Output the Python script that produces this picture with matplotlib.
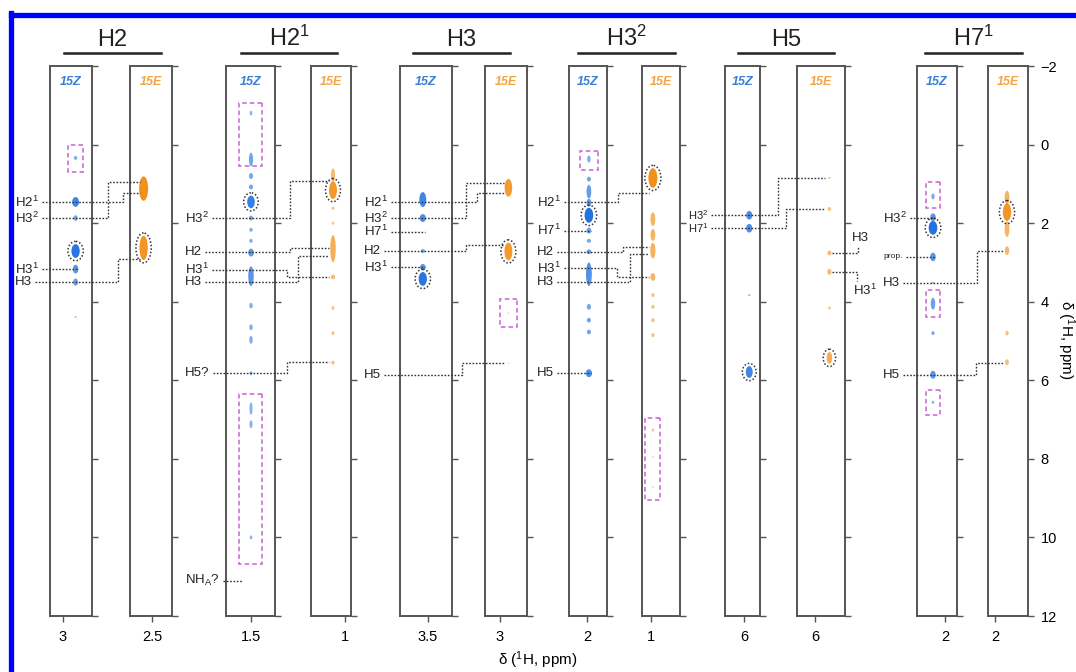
import numpy as np
import matplotlib.pyplot as plt
from matplotlib.patches import Ellipse, Rectangle
from matplotlib.lines import Line2D

plt.rcParams['font.family'] = ['Liberation Sans', 'DejaVu Sans']
plt.rcParams['mathtext.fontset'] = 'custom'
plt.rcParams['mathtext.rm'] = 'Liberation Sans'
plt.rcParams['mathtext.it'] = 'Liberation Sans:italic'
plt.rcParams['mathtext.bf'] = 'Liberation Sans:bold'

#%% data (ppm)
groups = ['H2', 'H2$^1$', 'H3', 'H3$^2$', 'H5', 'H7$^1$']
strip_names = ['15Z', '15E'] * 6
strip_ticks = [3, 2.5, 1.5, 1, 3.5, 3, 2, 1, 6, 6, 2, 2]
# F2 position of the cross-peak column in each strip
strip_f2 = [2.94, 2.54, 1.50, 1.06, 3.52, 2.96, 1.99, 0.99, 5.97, 5.94, 2.06, 1.94]

# peaks per strip: (F1 ppm, extent ppm, relative intensity)
peaks = [
    [(0.34, 0.10, 0.2), (1.46, 0.25, 0.7), (1.87, 0.14, 0.3), (2.71, 0.35, 0.9),
     (3.17, 0.22, 0.5), (3.50, 0.18, 0.4), (4.39, 0.04, 0.05)],
    [(1.12, 0.62, 1.0), (2.63, 0.62, 0.9)],
    [(-0.80, 0.12, 0.1), (0.38, 0.35, 0.3), (0.80, 0.15, 0.3), (1.08, 0.12, 0.3),
     (1.46, 0.32, 0.8), (1.87, 0.12, 0.3), (2.17, 0.10, 0.2), (2.45, 0.10, 0.2),
     (2.75, 0.20, 0.5), (3.35, 0.50, 0.5), (4.10, 0.14, 0.2), (4.65, 0.15, 0.2),
     (4.97, 0.20, 0.2), (5.82, 0.10, 0.15), (6.72, 0.32, 0.15), (7.12, 0.20, 0.15),
     (10.0, 0.10, 0.1)],
    [(0.78, 0.35, 0.3), (1.16, 0.45, 0.85), (1.62, 0.08, 0.15), (2.00, 0.08, 0.1),
     (2.65, 0.69, 0.5), (3.37, 0.12, 0.3), (4.16, 0.10, 0.15), (4.80, 0.10, 0.15),
     (5.55, 0.10, 0.2)],
    [(1.40, 0.38, 0.7), (1.87, 0.20, 0.6), (2.71, 0.10, 0.3), (3.12, 0.16, 0.5),
     (3.42, 0.35, 0.9)],
    [(1.10, 0.45, 0.8), (2.72, 0.45, 0.85), (4.29, 0.03, 0.05), (5.56, 0.02, 0.05)],
    [(0.37, 0.18, 0.2), (0.88, 0.12, 0.3), (1.20, 0.35, 0.4), (1.48, 0.20, 0.4),
     (1.80, 0.38, 0.95), (2.19, 0.15, 0.4), (2.45, 0.10, 0.3), (2.73, 0.12, 0.4),
     (3.30, 0.60, 0.55), (4.13, 0.15, 0.3), (4.47, 0.12, 0.3), (4.77, 0.12, 0.3),
     (5.82, 0.20, 0.6)],
    [(0.85, 0.50, 1.0), (1.90, 0.35, 0.4), (2.30, 0.30, 0.4), (2.70, 0.40, 0.45),
     (3.37, 0.20, 0.4), (3.83, 0.10, 0.2), (4.13, 0.10, 0.2), (4.47, 0.10, 0.2),
     (4.85, 0.10, 0.2), (7.27, 0.08, 0.08), (7.95, 0.03, 0.05), (8.72, 0.03, 0.05)],
    [(1.80, 0.22, 0.6), (2.13, 0.22, 0.6), (3.83, 0.04, 0.1), (5.79, 0.30, 0.7)],
    [(0.85, 0.05, 0.1), (1.64, 0.10, 0.2), (2.76, 0.12, 0.3), (3.24, 0.15, 0.3),
     (4.16, 0.08, 0.1), (5.43, 0.30, 0.5)],
    [(1.32, 0.15, 0.2), (1.85, 0.20, 0.5), (2.12, 0.35, 0.95), (2.86, 0.22, 0.5),
     (3.52, 0.05, 0.1), (4.05, 0.30, 0.35), (4.80, 0.10, 0.2), (5.86, 0.20, 0.5),
     (6.56, 0.08, 0.1)],
    [(1.35, 0.35, 0.4), (1.72, 0.45, 0.9), (2.15, 0.40, 0.4), (2.70, 0.22, 0.35),
     (4.80, 0.12, 0.2), (5.54, 0.15, 0.25)],
]

# dotted circles (F1 ppm of the circled peak)
circled = [[2.71], [2.63], [1.46], [1.16], [3.42], [2.72], [1.80], [0.85], [5.79], [5.43], [2.12], [1.72]]

# dashed boxes: strip -> list of (top ppm, bottom ppm)
boxed = {0: [(0.01, 0.70)], 2: [(-1.06, 0.55), (6.35, 10.68)], 5: [(3.93, 4.64)],
         6: [(0.16, 0.65)], 7: [(6.96, 9.05)],
         10: [(0.95, 1.61), (3.70, 4.39), (6.25, 6.88)]}

# assignments: (label, F1 ppm in 15Z, F1 ppm reached in 15E or None)
links = [
    [('H2$^1$', 1.46, 1.23), ('H3$^2$', 1.87, 0.95), ('H3$^1$', 3.17, None), ('H3', 3.50, 2.91)],
    [('H3$^2$', 1.87, 0.93), ('H2', 2.73, 2.63), ('H3$^1$', 3.19, 3.37), ('H3', 3.50, 2.84),
     ('H5?', 5.82, 5.53), ('NH$_\\mathrm{A}$?', 11.1, None)],
    [('H2$^1$', 1.46, 1.23), ('H3$^2$', 1.87, 0.98), ('H7$^1$', 2.22, None), ('H2', 2.71, 2.56),
     ('H3$^1$', 3.12, None), ('H5', 5.86, 5.56)],
    [('H2$^1$', 1.46, 1.23), ('H7$^1$', 2.19, None), ('H2', 2.73, 2.61), ('H3$^1$', 3.14, 3.37),
     ('H3', 3.50, 2.79), ('H5', 5.82, None)],
    [('H3$^2$', 1.80, 0.85), ('H7$^1$', 2.13, 1.64)],
    [('H3$^2$', 1.87, None), ('prop.', 2.86, None), ('H3', 3.52, 2.71), ('H5', 5.86, 5.56)],
]
# labels on the right of the H5 15E strip: (label, label ppm, peak ppm, leader end ppm)
right_links = [('H3', 2.38, 2.76, 2.57), ('H3$^1$', 3.70, 3.24, 3.47)]

#%% layout (pixels)
W, H = 1076, 672
TOP, BOT = 66, 616
strip_px = [(50, 92), (130, 172), (226, 275), (311, 351), (400, 452), (485, 527),
            (569, 607), (642, 680), (725, 760), (797, 845), (917, 957), (988, 1028)]
tick_px = [63, 152, 251, 345, 428, 500, 587, 651, 744, 815, 945, 995]
header_px = [(64, 161), (241, 337), (413, 510), (578, 675), (738, 834), (925, 1022)]
label_x = [15, 185, 364, 537, 688, 883]
label_fs = [9.5, 9.5, 9.5, 9.5, 8, 9.5]
turns = [[123, 108, None, 118],
         [290, 290, 287, 298, 287, 243],
         [477, 466, None, 466, None, 462],
         [618, None, 623, 617, 630, None],
         [778, 786],
         [None, None, 977, 976]]
right_label_x = [852, 853]
right_turn_x = [858, 857]
box_w = {0: 15, 2: 23, 5: 17, 6: 18, 7: 15, 10: 14}
PPM_W = 0.2

BLUE = '#1c6ee0'
ORANGE = '#f39019'
BLUE_T = '#3b7fd4'
ORANGE_T = '#f5a443'
FRAME = '#555555'
DOT = '#333333'
MAG = '#c862d6'

fig = plt.figure(figsize=(W / 100, H / 100), dpi=100)
fig.patch.set_facecolor('white')
ybot = 1 - BOT / H
yh = (BOT - TOP) / H

axes = []
for i, (L, R) in enumerate(strip_px):
    ax = fig.add_axes([L / W, ybot, (R - L) / W, yh])
    left = strip_ticks[i] + PPM_W * (tick_px[i] - L) / (R - L)
    ax.set_xlim(left, left - PPM_W)
    ax.set_ylim(12, -2)
    ax.set_xticks([strip_ticks[i]])
    ax.set_xticklabels([('%g' % strip_ticks[i])])
    ax.set_yticks(np.arange(-2, 13, 2))
    ax.tick_params(axis='y', left=False, right=True, labelleft=False,
                   labelright=(i == 11), direction='out', length=4, width=1,
                   color=FRAME, labelsize=10.5, pad=5)
    ax.tick_params(axis='x', direction='out', length=4, width=1, color=FRAME,
                   labelsize=10.5, pad=6)
    for s in ax.spines.values():
        s.set_color(FRAME)
        s.set_linewidth(1.4)
    col = BLUE if i % 2 == 0 else ORANGE
    ppx = PPM_W / (R - L)
    for y, ext, inten in peaks[i]:
        ax.add_patch(Ellipse((strip_f2[i], y), (2 + 7 * inten) * ppx, ext,
                             facecolor=col, edgecolor='none', alpha=0.45 + 0.55 * inten))
    for yc in circled[i]:
        p = min(peaks[i], key=lambda q: abs(q[0] - yc))
        ax.add_patch(Ellipse((strip_f2[i], yc), (9 + 7 * p[2]) * ppx, p[1] + 0.14,
                             facecolor='none', edgecolor=DOT, lw=1.1,
                             linestyle=(0, (1, 1.3))))
    for top, bottom in boxed.get(i, []):
        bw = box_w[i] * ppx
        ax.add_patch(Rectangle((strip_f2[i] - bw / 2, top), bw, bottom - top,
                               facecolor='none', edgecolor=MAG, lw=1.1,
                               linestyle=(0, (3, 2))))
    ax.text(0.5, 0.971, strip_names[i], transform=ax.transAxes, ha='center', va='center',
            fontsize=9, fontweight='bold', fontstyle='italic',
            color=BLUE_T if i % 2 == 0 else ORANGE_T)
    axes.append(ax)

# overlay for assignment leaders (x in pixels, y in ppm)
ov = fig.add_axes([0, ybot, 1, yh])
ov.set_xlim(0, W)
ov.set_ylim(12, -2)
ov.axis('off')
ov.set_zorder(10)
ov.patch.set_visible(False)

renderer = fig.canvas.get_renderer()
lstyle = dict(color=DOT, lw=1.0, linestyle=(0, (1.2, 1.2)), clip_on=False)


def col_px(i):
    return axes[i].transData.transform((strip_f2[i], 0))[0]


for g in range(6):
    zi, ei = 2 * g, 2 * g + 1
    zx, ex = col_px(zi), col_px(ei)
    for k, (lab, y0, y1) in enumerate(links[g]):
        fs = 6 if lab == 'prop.' else label_fs[g]
        t = ov.text(label_x[g], y0, lab, fontsize=fs, ha='left', va='center', color='#222222')
        x0 = t.get_window_extent(renderer).x1 + 3
        tx = turns[g][k]
        if y1 is None:
            end = tx if tx is not None else zx + 2
            ov.plot([x0, end], [y0, y0], **lstyle)
        else:
            ov.plot([x0, tx, tx, ex - 4], [y0, y0, y1, y1], **lstyle)

ex5 = col_px(9)
for k, (lab, yl, yp, ye) in enumerate(right_links):
    ov.text(right_label_x[k], yl, lab, fontsize=9.5, ha='left', va='center', color='#222222')
    ov.plot([ex5 + 3, right_turn_x[k], right_turn_x[k]], [yp, yp, ye], **lstyle)

# group headers with underline
for g, (x0, x1) in enumerate(header_px):
    fig.text((x0 + x1) / 2 / W, 1 - 45.5 / H, groups[g], ha='center', va='baseline',
             fontsize=17, color='#222222')
    fig.add_artist(Line2D([x0 / W, x1 / W], [1 - 53 / H, 1 - 53 / H],
                          color='#222222', lw=1.8))

fig.text(538 / W, 1 - 660 / H, 'δ ($^1$H, ppm)', ha='center', va='center', fontsize=11)
fig.text(1066 / W, 1 - 340 / H, 'δ ($^1$H, ppm)', ha='center', va='center',
         fontsize=11, rotation=270)

# blue frame
fig.add_artist(Line2D([10.5 / W, 1], [1 - 14.5 / H, 1 - 14.5 / H], color='#0000ff', lw=3.8))
fig.add_artist(Line2D([10.5 / W, 10.5 / W], [0, 1 - 12.6 / H], color='#0000ff', lw=3.8))

fig.savefig('out.png', dpi=100)
